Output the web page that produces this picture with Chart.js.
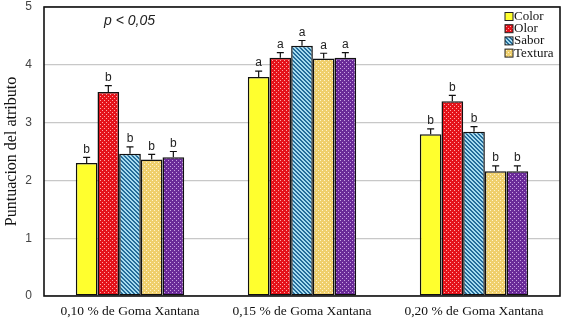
<!DOCTYPE html>
<html>
<head>
<meta charset="utf-8">
<script src="https://cdn.jsdelivr.net/npm/chart.js@4"></script>
<style>
  body { margin: 0; background: #fff; }
  #wrap { width: 567px; height: 321px; }
</style>
</head>
<body>
<div id="wrap"><canvas id="myChart" width="567" height="321"></canvas></div>
<script>
// data
var groups = ['0,10 % de Goma Xantana', '0,15 % de Goma Xantana', '0,20 % de Goma Xantana'];
var seriesNames = ['Color', 'Olor', 'Sabor', 'Textura', ''];
var colorVals   = [2.30, 3.79, 2.80];
var olorVals    = [3.53, 4.12, 3.37];
var saborVals   = [2.46, 4.33, 2.84];
var texturaVals = [2.36, 4.11, 2.16];
var quintoVals  = [2.40, 4.12, 2.16];
var colorErr   = [0.10, 0.10, 0.09];
var olorErr    = [0.11, 0.09, 0.10];
var saborErr   = [0.12, 0.09, 0.09];
var texturaErr = [0.09, 0.09, 0.09];
var quintoErr  = [0.10, 0.09, 0.09];
var groupLetters = ['b', 'a', 'b'];
var yTicks = [0, 1, 2, 3, 4, 5];

function makePattern(bg, fg, size, test) {
  var c = document.createElement('canvas');
  c.width = size; c.height = size;
  var g = c.getContext('2d');
  g.fillStyle = bg;
  g.fillRect(0, 0, size, size);
  g.fillStyle = fg;
  for (var x = 0; x < size; x++) {
    for (var y = 0; y < size; y++) {
      if (test(x, y)) g.fillRect(x, y, 1, 1);
    }
  }
  return document.getElementById('myChart').getContext('2d').createPattern(c, 'repeat');
}

var dots = function(x, y) { return (x == 0 && y == 0) || (x == 2 && y == 2); };
var fills = [
  '#ffff2e',
  makePattern('#e4121a', '#ffa8a8', 4, dots),
  makePattern('#a6dcf0', '#256c9a', 4, function(x, y) { var d = ((x - y) % 4 + 4) % 4; return d == 0 || d == 1; }),
  makePattern('#efcf6c', '#fff4cc', 4, dots),
  makePattern('#6a2a98', '#c9a2e2', 4, dots)
];

var allVals = [colorVals, olorVals, saborVals, texturaVals, quintoVals];
var allErr = [colorErr, olorErr, saborErr, texturaErr, quintoErr];

var datasets = [];
for (var i = 0; i < seriesNames.length; i++) {
  datasets.push({
    label: seriesNames[i],
    data: allVals[i],
    err: allErr[i],
    backgroundColor: fills[i],
    borderColor: '#111',
    borderWidth: 1.5,
    borderSkipped: false,
    categoryPercentage: 0.63,
    barPercentage: 1.0
  });
}

var extras = {
  id: 'extras',
  afterDatasetsDraw: function(chart) {
    var ctx = chart.ctx;
    var area = chart.chartArea;
    var y = chart.scales.y;
    ctx.save();
    // error bars and letters
    chart.data.datasets.forEach(function(ds, i) {
      var meta = chart.getDatasetMeta(i);
      meta.data.forEach(function(bar, j) {
        var top = y.getPixelForValue(ds.data[j] + ds.err[j]);
        ctx.strokeStyle = '#111';
        ctx.lineWidth = 1.2;
        ctx.beginPath();
        ctx.moveTo(bar.x, bar.y);
        ctx.lineTo(bar.x, top);
        ctx.moveTo(bar.x - 3.5, top);
        ctx.lineTo(bar.x + 3.5, top);
        ctx.stroke();
        ctx.fillStyle = '#222';
        ctx.font = '12px "Liberation Sans", Arial, sans-serif';
        ctx.textAlign = 'center';
        ctx.textBaseline = 'bottom';
        ctx.fillText(groupLetters[j], bar.x, top - 2);
      });
    });
    // frame
    ctx.strokeStyle = '#111';
    ctx.lineWidth = 1.6;
    ctx.strokeRect(area.left, area.top, area.right - area.left, area.bottom - area.top);
    // p value
    ctx.fillStyle = '#222';
    ctx.font = 'italic 14px "Liberation Sans", Arial, sans-serif';
    ctx.textAlign = 'left';
    ctx.textBaseline = 'middle';
    ctx.fillText('p < 0,05', 104, 21);
    // legend (first four series only)
    ctx.font = '13px "Liberation Serif", "Times New Roman", serif';
    for (var k = 0; k < 4; k++) {
      var ly = 16.5 + k * 12.2;
      ctx.fillStyle = chart.data.datasets[k].backgroundColor;
      ctx.fillRect(505, ly - 4, 8, 8);
      ctx.strokeStyle = '#222';
      ctx.lineWidth = 1;
      ctx.strokeRect(505, ly - 4, 8, 8);
      ctx.fillStyle = '#111';
      ctx.fillText(chart.data.datasets[k].label, 514, ly);
    }
    ctx.restore();
  }
};

var myChart = new Chart(document.getElementById('myChart'), {
  type: 'bar',
  data: { labels: groups, datasets: datasets },
  options: {
    responsive: false,
    animation: false,
    layout: { padding: { top: 7, right: 7, left: 0, bottom: 0 } },
    plugins: { legend: { display: false }, tooltip: { enabled: false } },
    scales: {
      x: {
        grid: { display: false },
        border: { display: false },
        ticks: {
          color: '#111',
          padding: -1,
          font: { family: '"Liberation Serif", "Times New Roman", serif', size: 13.5 }
        },
        afterFit: function(scale) { scale.height = 25; scale.paddingLeft = 0; scale.paddingRight = 0; }
      },
      y: {
        min: 0,
        max: 5,
        afterBuildTicks: function(scale) { scale.ticks = yTicks.map(function(v) { return { value: v }; }); },
        grid: { color: '#c8c8c8', lineWidth: 1.2, drawTicks: false },
        border: { display: false },
        ticks: {
          color: '#444',
          padding: 12,
          font: { family: '"Liberation Sans", Arial, sans-serif', size: 12 }
        },
        title: {
          display: true,
          text: 'Puntuacion del atributo',
          color: '#111',
          padding: 2,
          font: { family: '"Liberation Serif", "Times New Roman", serif', size: 16 }
        },
        afterFit: function(scale) { scale.width = 44; scale.paddingTop = 0; scale.paddingBottom = 0; }
      }
    }
  },
  plugins: [extras]
});
</script>
</body>
</html>
